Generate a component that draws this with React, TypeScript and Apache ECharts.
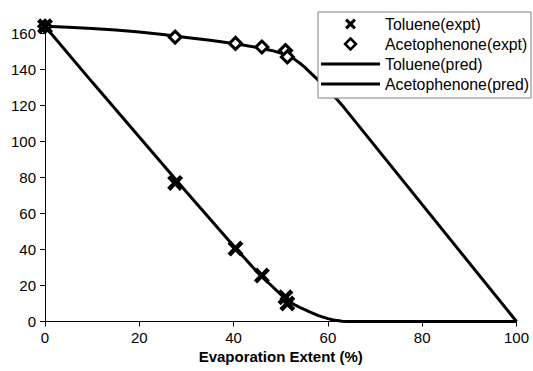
import React, { useEffect, useRef } from "react";
import * as echarts from "echarts";

const expX = [0, 27.6, 40.4, 46.0, 51.0, 51.4];
const tolueneExpt = [164, 77, 40.5, 25.5, 13.5, 10];
const acetoExpt = [164, 158, 154.5, 152.5, 150.5, 147];

const tolPredX = [0, 10, 20, 30, 40, 45, 50, 51, 52, 53, 54, 55, 56, 57, 58, 59, 60, 61, 62, 63, 64, 65, 100];
const toluenePred = [164, 133, 102.5, 72, 42, 27.5, 15, 12.7, 10.8, 9.2, 7.9, 6.7, 5.5, 4.4, 3.3, 2.4, 1.6, 1.0, 0.5, 0.2, 0.05, 0, 0];

const acePredX = [0, 5, 10, 15, 20, 25, 30, 35, 40, 45, 48, 50, 52, 53, 54, 55, 56, 57, 58, 59, 60, 61, 62, 63, 100];
const acetoPred = [164, 163.5, 162.8, 161.9, 160.8, 159.4, 157.8, 156.2, 154.5, 152.3, 150.6, 149.2, 147.2, 145.5, 143.6, 141.5, 139, 136.5, 134, 131.5, 128.8, 126, 123.2, 120.2, 0];

const yTicks = [0, 20, 40, 60, 80, 100, 120, 140, 160];
const seriesNames = ["Toluene(expt)", "Acetophenone(expt)", "Toluene(pred)", "Acetophenone(pred)"];

const FONT = "Liberation Sans, Arial, sans-serif";
const X_PATH =
  "path://M0,2L2,0L5,3L8,0L10,2L7,5L10,8L8,10L5,7L2,10L0,8L3,5Z";
const DIAMOND_PATH = "path://M5,0L10,5L5,10L0,5Z";
const LINE_PATH = "path://M0,0H59V3H0Z";

const zip = (xs: number[], ys: number[]) => xs.map((x, i) => [x, ys[i]]);

export default function App() {
  const ref = useRef<HTMLDivElement>(null);
  useEffect(() => {
    if (!ref.current) return;
    const chart = echarts.init(ref.current, null, { renderer: "svg" });
    chart.setOption({
      animation: false,
      backgroundColor: "#fff",
      grid: { left: 45, right: 16.5, top: 24.5, bottom: 49.5 },
      legend: {
        data: [
          { name: seriesNames[0], icon: X_PATH },
          { name: seriesNames[1], icon: DIAMOND_PATH, itemStyle: { borderWidth: 2.5 } },
          { name: seriesNames[2], icon: LINE_PATH },
          { name: seriesNames[3], icon: LINE_PATH },
        ],
        orient: "vertical",
        left: 318,
        top: 12,
        padding: [4, 2, 6, 3],
        itemWidth: 59,
        itemHeight: 11,
        itemGap: 4,
        symbolKeepAspect: true,
        borderColor: "#808080",
        borderWidth: 1,
        backgroundColor: "#fff",
        textStyle: { fontFamily: FONT, fontSize: 15.8, color: "#000", lineHeight: 14 },
      },
      xAxis: {
        type: "value",
        min: 0,
        max: 100,
        interval: 20,
        name: "Evaporation Extent (%)",
        nameLocation: "middle",
        nameGap: 27,
        nameTextStyle: { fontFamily: FONT, fontSize: 15, fontWeight: "bold", color: "#000" },
        axisLine: { show: true, onZero: false, lineStyle: { color: "#000", width: 1 } },
        axisTick: { show: true, inside: false, length: 5, lineStyle: { color: "#000" } },
        axisLabel: { fontFamily: FONT, fontSize: 15, color: "#000", margin: 8 },
        splitLine: { show: false },
      },
      yAxis: {
        type: "value",
        min: 0,
        max: 165,
        interval: 20,
        axisLine: { show: true, onZero: false, lineStyle: { color: "#000", width: 1 } },
        axisTick: { show: true, inside: false, length: 5, lineStyle: { color: "#000" }, customValues: yTicks },
        axisLabel: { fontFamily: FONT, fontSize: 15, color: "#000", margin: 9, customValues: yTicks },
        splitLine: { show: false },
      },
      series: [
        {
          name: seriesNames[0],
          type: "scatter",
          data: zip(expX, tolueneExpt),
          symbol: X_PATH,
          symbolSize: 16,
          itemStyle: { color: "#000", opacity: 1 },
          z: 5,
        },
        {
          name: seriesNames[1],
          type: "scatter",
          data: zip(expX, acetoExpt),
          symbol: "diamond",
          symbolSize: 12,
          itemStyle: { color: "#fff", borderColor: "#000", borderWidth: 3, opacity: 1 },
          z: 4,
        },
        {
          name: seriesNames[2],
          type: "line",
          data: zip(tolPredX, toluenePred),
          showSymbol: false,
          symbol: "none",
          lineStyle: { color: "#000", width: 3 },
          itemStyle: { color: "#000" },
          z: 2,
        },
        {
          name: seriesNames[3],
          type: "line",
          data: zip(acePredX, acetoPred),
          showSymbol: false,
          symbol: "none",
          lineStyle: { color: "#000", width: 3 },
          itemStyle: { color: "#000" },
          z: 2,
        },
      ],
    });
    return () => chart.dispose();
  }, []);
  return (
    <div
      ref={ref}
      style={{ position: "absolute", left: 0, top: 0, width: 533, height: 371, background: "#fff" }}
    />
  );
}
